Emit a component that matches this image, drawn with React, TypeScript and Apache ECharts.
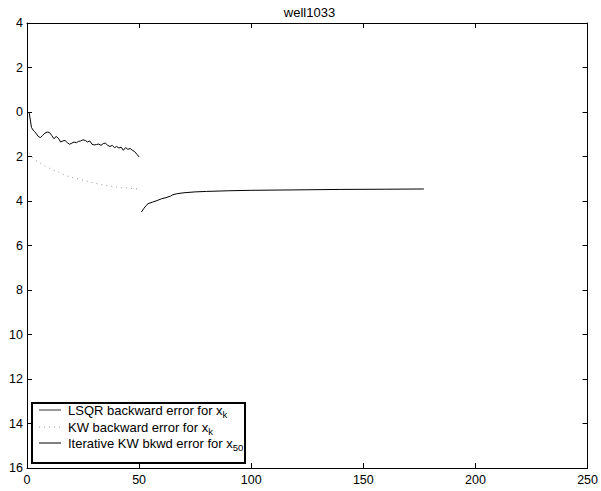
import React, { useEffect, useRef } from "react";
import * as echarts from "echarts";

const title = "well1033";
const xTicks = { min: 0, max: 250, interval: 50 };
const yTicks = { min: -16, max: 4, interval: 2 };

const lsqrK = [1,2,3,4,5,6,7,8,9,10,11,12,13,14,15,16,17,18,19,20,21,22,23,24,25,26,27,28,29,30,31,32,33,34,35,36,37,38,39,40,41,42,43,44,45,46,47,48,49,50];
const lsqrVal = [-0.05,-0.7,-0.85,-0.95,-1.1,-1.15,-1.05,-0.95,-0.9,-0.92,-1.05,-1.2,-1.1,-1.18,-1.35,-1.3,-1.28,-1.38,-1.45,-1.4,-1.35,-1.38,-1.32,-1.3,-1.25,-1.28,-1.35,-1.3,-1.45,-1.48,-1.46,-1.44,-1.5,-1.42,-1.4,-1.5,-1.55,-1.5,-1.6,-1.55,-1.62,-1.58,-1.72,-1.6,-1.68,-1.64,-1.72,-1.78,-1.9,-2.02];

const kwK = [1,2,3,4,5,6,7,8,9,10,12,14,16,18,20,22,24,26,28,30,32,34,36,38,40,42,44,46,48,50];
const kwVal = [-1.86,-2.0,-2.1,-2.18,-2.25,-2.31,-2.37,-2.43,-2.48,-2.53,-2.62,-2.7,-2.8,-2.88,-2.94,-2.99,-3.04,-3.09,-3.14,-3.19,-3.24,-3.28,-3.31,-3.34,-3.37,-3.39,-3.41,-3.43,-3.45,-3.46];

const iterK = [51,52,53,54,56,58,60,62,64,65,67,70,75,80,90,100,120,140,160,177];
const iterVal = [-4.5,-4.35,-4.22,-4.12,-4.05,-3.98,-3.9,-3.85,-3.78,-3.72,-3.67,-3.63,-3.59,-3.57,-3.54,-3.52,-3.5,-3.48,-3.47,-3.46];

const legendNames = ["LSQR backward error for x", "KW backward error for x", "Iterative KW bkwd error for x"];
const legendSubs = ["k", "k", "50"];

const FONT = "'Liberation Sans', Arial, Helvetica, sans-serif";

export default function App() {
  const ref = useRef<HTMLDivElement>(null);
  useEffect(() => {
    if (!ref.current) return;
    const chart = echarts.init(ref.current, undefined, { renderer: "svg" });
    const zip = (xs: number[], ys: number[]) => xs.map((x, i) => [x, ys[i]]);
    const axisCommon = {
      type: "value" as const,
      axisLine: { show: true, onZero: false, lineStyle: { color: "#000", width: 1 } },
      axisTick: { show: true, inside: true, length: 5, lineStyle: { color: "#000" } },
      splitLine: { show: false },
    };
    const legendY = [410, 427, 443];
    const legendGraphics: any[] = [
      { type: "text", x: 309.5, y: 12, style: { text: title, align: "center", verticalAlign: "middle", fontSize: 13, fontFamily: FONT, fill: "#000" } },
      { type: "rect", shape: { x: 32, y: 403, width: 213, height: 60 }, style: { fill: "#fff", stroke: "#000", lineWidth: 2 }, z: 100 },
      { type: "line", shape: { x1: 39, y1: legendY[0], x2: 61, y2: legendY[0] }, style: { stroke: "#333", lineWidth: 1 }, z: 101 },
      { type: "line", shape: { x1: 39, y1: legendY[1], x2: 61, y2: legendY[1] }, style: { stroke: "#999", lineWidth: 1, lineDash: [1, 4] }, z: 101 },
      { type: "line", shape: { x1: 39, y1: legendY[2], x2: 61, y2: legendY[2] }, style: { stroke: "#000", lineWidth: 1 }, z: 101 },
    ];
    legendNames.forEach((n, i) => {
      legendGraphics.push({
        type: "text",
        x: 68,
        y: legendY[i],
        z: 101,
        style: {
          text: `{m|${n}}{s|${legendSubs[i]}}`,
          verticalAlign: "middle",
          rich: {
            m: { fontSize: 13, fontFamily: FONT, fill: "#000", color: "#000", lineHeight: 15 },
            s: { fontSize: 9.5, fontFamily: FONT, fill: "#000", color: "#000", padding: [8, 0, 0, 0] },
          },
        },
      });
    });
    chart.setOption({
      animation: false,
      grid: { left: 27, right: 9, top: 23, bottom: 23 },
      xAxis: [
        { ...axisCommon, position: "bottom", ...xTicks, axisLabel: { color: "#000", fontSize: 12.5, fontFamily: FONT, margin: 5 } },
        { ...axisCommon, position: "top", ...xTicks, axisLabel: { show: false } },
      ],
      yAxis: [
        { ...axisCommon, position: "left", ...yTicks, axisLabel: { color: "#000", fontSize: 12.5, fontFamily: FONT, margin: 4, formatter: (v: number) => String(Math.abs(v)) } },
        { ...axisCommon, position: "right", ...yTicks, axisLabel: { show: false } },
      ],
      series: [
        { type: "line", data: zip(lsqrK, lsqrVal), showSymbol: false, lineStyle: { color: "#000", width: 1 } },
        { type: "line", data: zip(kwK, kwVal), showSymbol: false, lineStyle: { color: "#999", width: 1, type: [1, 4] } },
        { type: "line", data: zip(iterK, iterVal), showSymbol: false, lineStyle: { color: "#000", width: 1 } },
      ],
      graphic: legendGraphics,
    });
    return () => chart.dispose();
  }, []);
  return <div ref={ref} style={{ width: 601, height: 491, position: "absolute", left: 0, top: 0 }} />;
}
